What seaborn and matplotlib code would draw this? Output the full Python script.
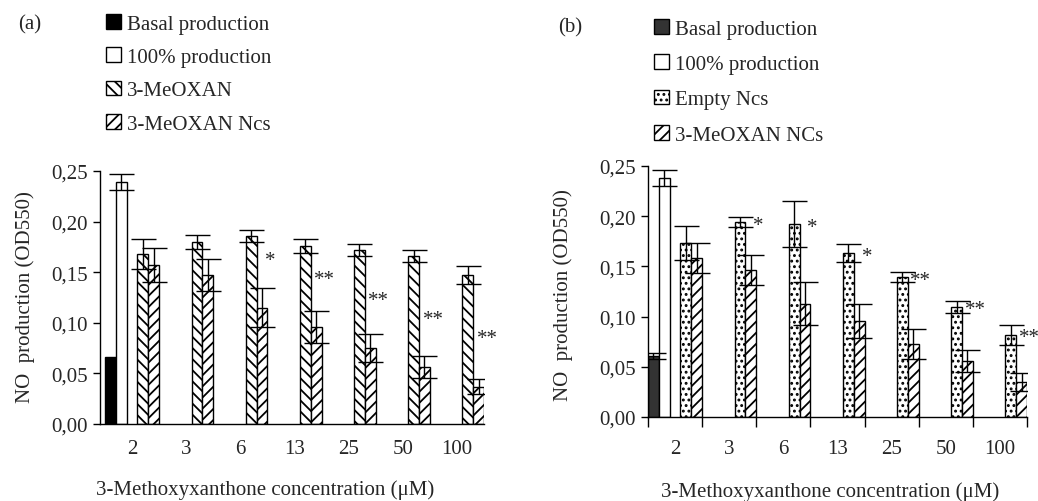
import numpy as np
import pandas as pd
import matplotlib
matplotlib.use("Agg")
import matplotlib.pyplot as plt
from matplotlib.patches import Patch
from matplotlib.ticker import FuncFormatter
import seaborn as sns

# data
conc = ["2", "3", "6", "13", "25", "50", "100"]

basal_a, basal_a_err = 0.066, 0.0
full_a, full_a_err = 0.239, 0.008
meoxan_a = [0.168, 0.180, 0.186, 0.176, 0.172, 0.166, 0.147]
meoxan_a_err = [0.015, 0.007, 0.006, 0.007, 0.006, 0.006, 0.009]
ncs_a = [0.157, 0.147, 0.115, 0.096, 0.075, 0.056, 0.037]
ncs_a_err = [0.017, 0.016, 0.019, 0.016, 0.014, 0.011, 0.007]
sig_a = ["", "", "*", "**", "**", "**", "**"]

basal_b, basal_b_err = 0.061, 0.003
full_b, full_b_err = 0.238, 0.008
empty_b = [0.173, 0.194, 0.192, 0.163, 0.139, 0.110, 0.082]
empty_b_err = [0.017, 0.005, 0.023, 0.009, 0.005, 0.006, 0.010]
ncs_b = [0.158, 0.146, 0.113, 0.096, 0.073, 0.056, 0.035]
ncs_b_err = [0.015, 0.015, 0.021, 0.017, 0.015, 0.011, 0.009]
sig_b = ["", "*", "*", "*", "**", "**", "**"]

sns.set_style("ticks")
plt.rcParams['font.family'] = ['Liberation Serif', 'DejaVu Serif']
plt.rcParams['hatch.linewidth'] = 1.3
plt.rcParams['hatch.color'] = 'black'
FS = 15


def make_df(names, basal, basal_err, full, full_err, s1, s1_err, s2, s2_err):
    rows = [(conc[0], names[0], basal, basal_err), (conc[0], names[1], full, full_err)]
    for i, c in enumerate(conc):
        rows.append((c, names[3], s1[i], s1_err[i]))
        rows.append((c, names[4], s2[i], s2_err[i]))
    return pd.DataFrame(rows, columns=["conc", "series", "value", "err"])


def panel(ax, df, names, colors, hatches, sig, sig_ref, sig_dy, sig_dx):
    pal = dict(zip(names, colors))
    sns.barplot(data=df, x="conc", y="value", hue="series", order=conc, hue_order=names,
                palette=pal, saturation=1, width=1.0, errorbar=None, edgecolor="black",
                linewidth=1.0, legend=False, ax=ax)
    lookup = {(r.series, r.conc): r.err for r in df.itertuples()}
    nlev = len(names)
    xs, ys, es = [], [], []
    for p in ax.patches:
        if p.get_height() == 0 or np.isnan(p.get_height()):
            continue
        xc = p.get_x() + p.get_width() / 2
        ci = int(round(xc))
        li = int(round((xc - ci + 0.5) * nlev - 0.5))
        name = names[li]
        p.set_hatch(hatches[li])
        err = lookup.get((name, conc[ci]), 0)
        if err > 0:
            xs.append(xc)
            ys.append(p.get_height())
            es.append(err)
    ax.errorbar(xs, ys, yerr=es, fmt="none", ecolor="black", elinewidth=1.0,
                capsize=9, capthick=1.0, zorder=5)
    for i, s in enumerate(sig):
        if s:
            ax.text(i + sig_dx, sig_ref[i] + sig_dy, s, ha="center", va="center", fontsize=FS)
    ax.set_ylim(0, 0.25)
    ax.set_yticks(np.arange(0, 0.2501, 0.05))
    ax.yaxis.set_major_formatter(FuncFormatter(lambda v, _: f"{v:.2f}".replace(".", ",")))
    ax.tick_params(axis="y", labelsize=FS, length=5, width=1, color="black", pad=4)
    for s in ["top", "right"]:
        ax.spines[s].set_visible(False)
    for s in ["left", "bottom"]:
        ax.spines[s].set_color("black")
        ax.spines[s].set_linewidth(1.0)
    ax.set_ylabel("NO  production (OD550)", fontsize=FS)
    ax.set_xlabel("3-Methoxyxanthone concentration (\u03bcM)", fontsize=FS)
    ax.xaxis.label.set_va("center")
    ax.yaxis.label.set_va("center")


fig = plt.figure(figsize=(10.38, 5.02), dpi=100)
ax_a = fig.add_axes([100 / 1038, 77 / 502, 384 / 1038, 253 / 502])
ax_b = fig.add_axes([648 / 1038, 84 / 502, 379 / 1038, 251 / 502])

names_a = ["Basal production", "100% production", "gap", "3-MeOXAN", "3-MeOXAN Ncs"]
colors_a = ["black", "white", "white", "white", "white"]
hatches_a = ["", "", "", "\\\\\\", "///"]
df_a = make_df(names_a, basal_a, basal_a_err, full_a, full_a_err,
               meoxan_a, meoxan_a_err, ncs_a, ncs_a_err)
panel(ax_a, df_a, names_a, colors_a, hatches_a, sig_a, ncs_a, 0.047, 0.56)
ax_a.set_xlim(-0.59, 6.5)
ax_a.tick_params(axis="x", labelsize=FS, length=0, pad=11)
ax_a.xaxis.set_label_coords(0.43, -0.257)
ax_a.yaxis.set_label_coords(-0.195, 0.506)

names_b = ["Basal production", "100% production", "gap", "Empty Ncs", "3-MeOXAN NCs"]
colors_b = ["#333333", "white", "white", "white", "white"]
hatches_b = ["", "", "", "...", "///"]
df_b = make_df(names_b, basal_b, basal_b_err, full_b, full_b_err,
               empty_b, empty_b_err, ncs_b, ncs_b_err)
panel(ax_b, df_b, names_b, colors_b, hatches_b, sig_b, empty_b, -0.003, 0.54)
ax_b.set_xlim(-0.5, 6.5)
ax_b.set_xticks(np.arange(-0.5, 6.6, 1.0), minor=True)
ax_b.tick_params(axis="x", which="major", labelsize=FS, length=0, pad=16)
ax_b.tick_params(axis="x", which="minor", length=7, width=1, color="black", direction="out")
ax_b.xaxis.set_label_coords(0.48, -0.295)
ax_b.yaxis.set_label_coords(-0.224, 0.49)

# legends and panel letters
for names, colors, hatches, x0, y0, sp, letter, lx, ly in [
        (names_a, colors_a, hatches_a, 106, 15, 0.66, "(a)", 30, 25),
        (names_b, colors_b, hatches_b, 654, 20, 0.76, "(b)", 570, 28)]:
    handles = [Patch(facecolor=c, edgecolor="black", hatch=h, linewidth=1.0, label=n)
               for n, c, h in zip(names, colors, hatches) if n != "gap"]
    fig.legend(handles=handles, loc="upper left", bbox_to_anchor=(x0 / 1038, 1 - y0 / 502),
               frameon=False, fontsize=FS, handlelength=0.7, handleheight=0.7,
               handletextpad=0.3, labelspacing=sp, borderpad=0, borderaxespad=0)
    fig.text(lx / 1038, 1 - ly / 502, letter, ha="center", va="center", fontsize=FS)

fig.savefig("out.png", dpi=100)
